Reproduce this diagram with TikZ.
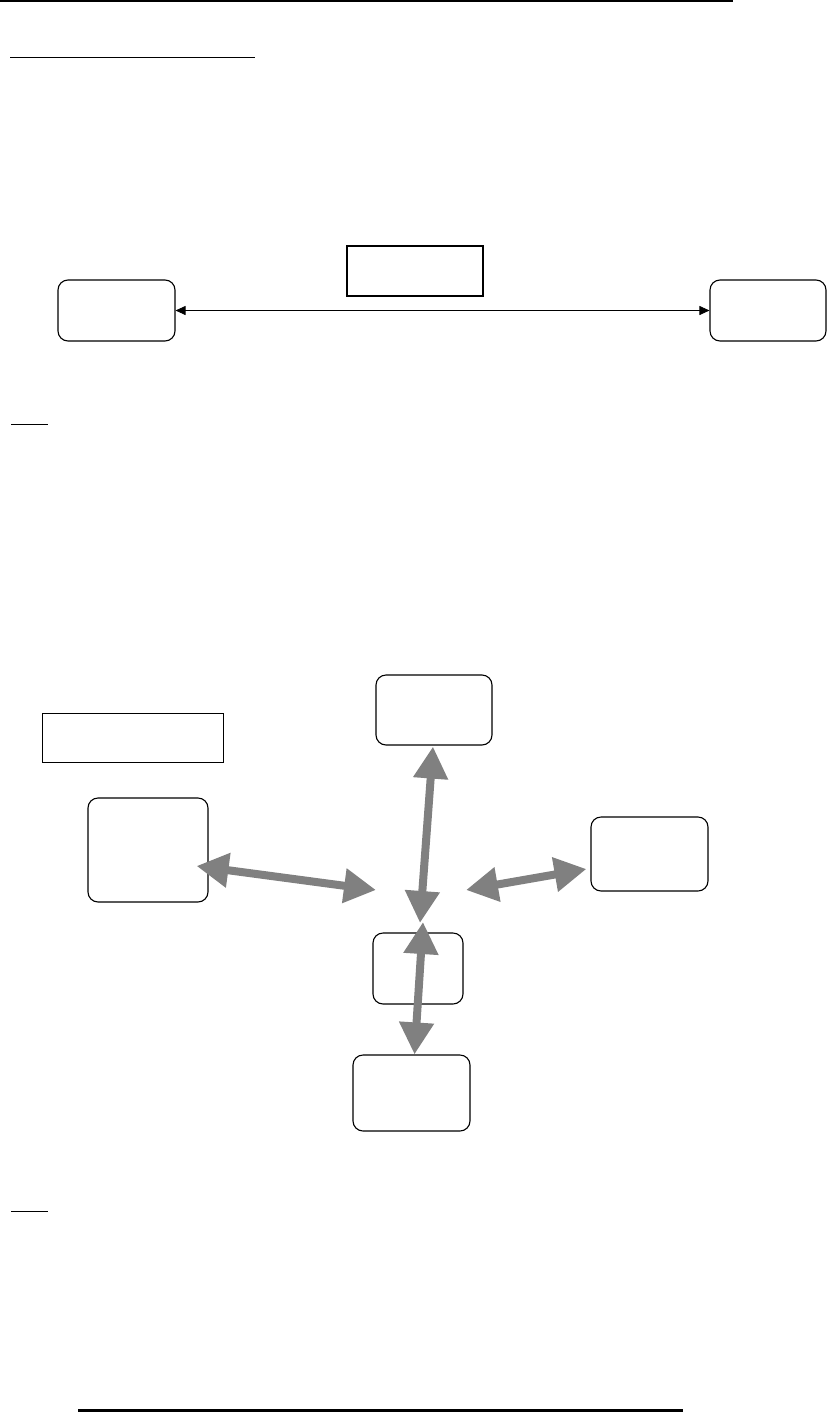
\documentclass[tikz,border=0pt]{standalone}
\usepackage{tikz}
\usepackage{xcolor}
\usetikzlibrary{positioning}
\usetikzlibrary{arrows.meta}
\usetikzlibrary{calc}
\definecolor{linkgrey}{HTML}{808080}
\tikzset{
  % A rounded block, size given as width/height
  blk/.style 2 args={
    draw=black, fill=white, rounded corners=10pt, line width=1.1pt,
    inner sep=0pt, minimum width=#1, minimum height=#2},
  % A plain square-cornered frame
  frm/.style 2 args={
    draw=black, fill=white, line width=#1, inner sep=0pt,
    minimum width=#2, minimum height=50pt},
  % Links
  thin/.style={{Triangle[length=10pt,width=9pt]}-{Triangle[length=10pt,width=9pt]}, draw=black, line width=0.9pt},
  fat/.style={{Triangle[length=32pt,width=33pt]}-{Triangle[length=32pt,width=33pt]}, draw=linkgrey, fill=linkgrey, line width=8pt},
  rule/.style={draw=black, line width=#1},
}

\begin{document}
\begin{tikzpicture}[x=1pt, y=-1pt]

  \useasboundingbox (0,0) rectangle (827,1424);

  % page rules
  \draw[rule=1.6pt] (0,1) -- (733,1);
  \draw[rule=1pt]   (10,57) -- (255,57);
  \draw[rule=1pt]   (11,424) -- (48,424);
  \draw[rule=1pt]   (11,1211) -- (48,1211);
  \draw[rule=3pt]   (78,1410) -- (683,1410);

  % first figure
  \node[blk={117pt}{61pt}] (peerA) at (116.5,310.5) {};
  \node[blk={116pt}{61pt}] (peerB) at (768,310.5)   {};
  \node[frm={1.6pt}{136pt}] (linkTag) at (415,271) {};

  \draw[thin] (peerA.east) -- (peerB.west);

  % second figure
  \node[frm={1pt}{181pt}, minimum height=49pt] (hubTag) at (132.5,737.5) {};
  \node[blk={116pt}{70pt}]  (north) at (434,710)    {};
  \node[blk={120pt}{104pt}] (west)  at (148,850)    {};
  \node[blk={117pt}{74pt}]  (east)  at (649.5,854)  {};
  \node[blk={90pt}{71pt}]   (hub)   at (418,968.5)  {};
  \node[blk={117pt}{76pt}]  (south) at (411.5,1093) {};

  \coordinate (hubW) at (376,890);
  \coordinate (hubE) at (466,890);
  \coordinate (hubN) at (420,923);
  \coordinate (hubS) at (423,922);

  \draw[fat] ($(west.east)+(-12,16)$) -- (hubW);
  \draw[fat] ($(north.south)+(-1,1)$) -- (hubN);
  \draw[fat] (hubE) -- ($(east.west)+(-4,15)$);
  \draw[fat] (hubS) -- ($(south.north)+(3,0)$);

\end{tikzpicture}
\end{document}
